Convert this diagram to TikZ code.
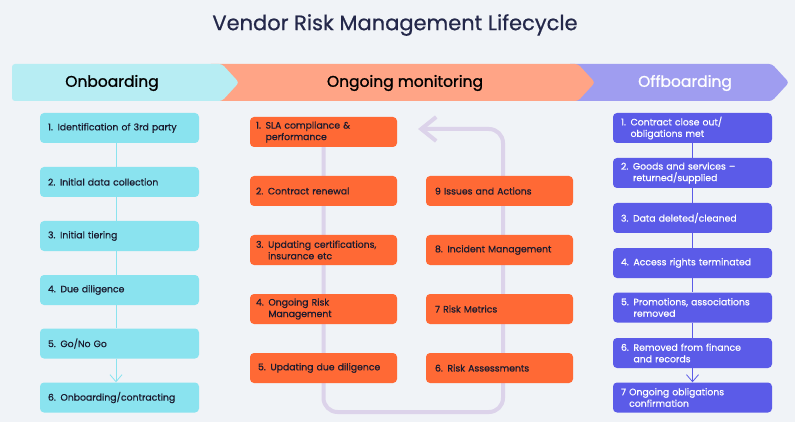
\documentclass[tikz,border=0pt]{standalone}
\usepackage{fontspec}
\setmainfont{Poppins}
\newfontfamily\medfont{Poppins}[FakeBold=0.6]
\newfontfamily\semifont{Poppins}[FakeBold=1.2]
\usetikzlibrary{arrows.meta}
\definecolor{bgc}{HTML}{F0F3F7}
\definecolor{titlec}{HTML}{24284A}
\definecolor{bcyan}{HTML}{B7EDF3}
\definecolor{borange}{HTML}{FFA486}
\definecolor{bpurple}{HTML}{9F9DF0}
\definecolor{cyanbox}{HTML}{8AE3EF}
\definecolor{orangebox}{HTML}{FF6935}
\definecolor{purplebox}{HTML}{5B5BE8}
\definecolor{lav}{HTML}{DCD3EA}
\definecolor{txt}{HTML}{1A1A2E}
\pgfdeclarelayer{bg}
\pgfdeclarelayer{back}
\pgfsetlayers{bg,back,main}
\tikzset{
  boxbase/.style={rounded corners=4pt, minimum height=30pt, align=left, inner ysep=0pt,
    font=\medfont\fontsize{9.3}{11.5}\selectfont},
  cbox/.style={boxbase, fill=cyanbox, text=txt, minimum width=159pt, text width=143pt, inner xsep=8pt},
  obox/.style={boxbase, fill=orangebox, text=txt, minimum width=147pt, text width=135pt, inner xsep=6pt},
  pbox/.style={boxbase, fill=purplebox, text=white, minimum width=159pt, text width=143pt, inner xsep=8pt},
  cline/.style={draw=cyanbox, line width=0.8pt},
  pline/.style={draw=purplebox, line width=0.8pt},
  loopline/.style={draw=lav, line width=4pt},
  bannertext/.style={font=\semifont\fontsize{15.5}{17}\selectfont},
}
\newcommand{\hang}[2]{#1\\\phantom{#2}}
\begin{document}
\begin{tikzpicture}[x=1pt,y=-1pt]
\begin{pgfonlayer}{bg}
\fill[bgc] (0,0) rectangle (795,422);
\end{pgfonlayer}
\useasboundingbox (0,0) rectangle (795,422);

% title
\node[font=\medfont\fontsize{21}{24}\selectfont, text=titlec] (title) at (395,25) {Vendor Risk Management Lifecycle};

% banner
\fill[bpurple, rounded corners=3pt] (567,64) -- (772,64) -- (789,82.5) -- (772,101) -- (567,101) -- cycle;
\fill[borange, rounded corners=3pt] (208,64) -- (578,64) -- (595,82.5) -- (578,101) -- (208,101) -- cycle;
\fill[bcyan, rounded corners=3pt] (12,64) -- (222,64) -- (239,82.5) -- (222,101) -- (12,101) -- cycle;
\node[bannertext, text=black] (onb) at (112,83) {Onboarding};
\node[bannertext, text=black] (ong) at (405,83) {Ongoing monitoring};
\node[bannertext, text=white] (offb) at (685,83) {Offboarding};

% onboarding column
\node[cbox] (o1) at (119.5,128) {1. Identification of 3rd party};
\node[cbox] (o2) at (119.5,182) {2. Initial data collection};
\node[cbox] (o3) at (119.5,236) {3. Initial tiering};
\node[cbox] (o4) at (119.5,290) {4. Due diligence};
\node[cbox] (o5) at (119.5,343.5) {5. Go/No Go};
\node[cbox] (o6) at (119.5,397.5) {6. Onboarding/contracting};
\begin{pgfonlayer}{back}
\draw[cline] ([xshift=-3.5pt]o1.south) -- ([xshift=-3.5pt]o2.north);
\draw[cline] ([xshift=-3.5pt]o2.south) -- ([xshift=-3.5pt]o3.north);
\draw[cline] ([xshift=-3.5pt]o3.south) -- ([xshift=-3.5pt]o4.north);
\draw[cline] ([xshift=-3.5pt]o4.south) -- ([xshift=-3.5pt]o5.north);
\end{pgfonlayer}
\draw[cline, -{Straight Barb[length=7pt,width=12pt,line width=0.8pt]}] ([xshift=-3.5pt]o5.south) -- ([xshift=-3.5pt]o6.north);

% ongoing monitoring
\node[obox] (m1) at (323.5,132) {\hang{1. SLA compliance \&}{1. }performance};
\node[obox] (m2) at (323.5,191) {2. Contract renewal};
\node[obox] (m3) at (323.5,250) {\hang{3. Updating certifications,}{3. }insurance etc};
\node[obox] (m4) at (323.5,309) {\hang{4. Ongoing Risk}{4. }Management};
\node[obox] (m5) at (323.5,368) {\hspace*{2pt}5. Updating due diligence};
\node[obox] (m9) at (499.5,191) {\hspace*{3pt}9 Issues and Actions};
\node[obox] (m8) at (499.5,250) {\hspace*{3pt}8. Incident Management};
\node[obox] (m7) at (499.5,309) {\hspace*{3pt}7 Risk Metrics};
\node[obox] (m6) at (499.5,368) {\hspace*{3pt}6. Risk Assessments};
\coordinate (lb) at (324,412);
\coordinate (rb) at (503,412);
\coordinate (rt) at (503,129);
\coordinate (tipp) at (418,129);
\begin{pgfonlayer}{back}
\draw[loopline, rounded corners=14pt, -{Straight Barb[length=15pt,width=24pt,line width=4pt]}] (m1.south) -- (m1.south |- lb) -- (rb) -- (rt) -- (tipp);
\end{pgfonlayer}

% offboarding
\node[pbox] (p1) at (692.5,128) {\hang{1. Contract close out/}{1. }obligations met};
\node[pbox] (p2) at (692.5,173) {\hang{2. Goods and services –}{2. }returned/supplied};
\node[pbox] (p3) at (692.5,218) {3. Data deleted/cleaned};
\node[pbox] (p4) at (692.5,263) {4. Access rights terminated};
\node[pbox] (p5) at (692.5,307.5) {\hang{5. Promotions, associations}{5. }removed};
\node[pbox] (p6) at (692.5,353) {\hang{6. Removed from finance}{6. }and records};
\node[pbox] (p7) at (692.5,397.5) {\hang{7 Ongoing obligations}{7 }confirmation};
\begin{pgfonlayer}{back}
\draw[pline] (p1.south) -- (p2.north);
\draw[pline] (p2.south) -- (p3.north);
\draw[pline] (p3.south) -- (p4.north);
\draw[pline] (p4.south) -- (p5.north);
\draw[pline] (p5.south) -- (p6.north);
\end{pgfonlayer}
\draw[pline, -{Straight Barb[length=7pt,width=12pt,line width=0.8pt]}] (p6.south) -- (p7.north);
\end{tikzpicture}
\end{document}
